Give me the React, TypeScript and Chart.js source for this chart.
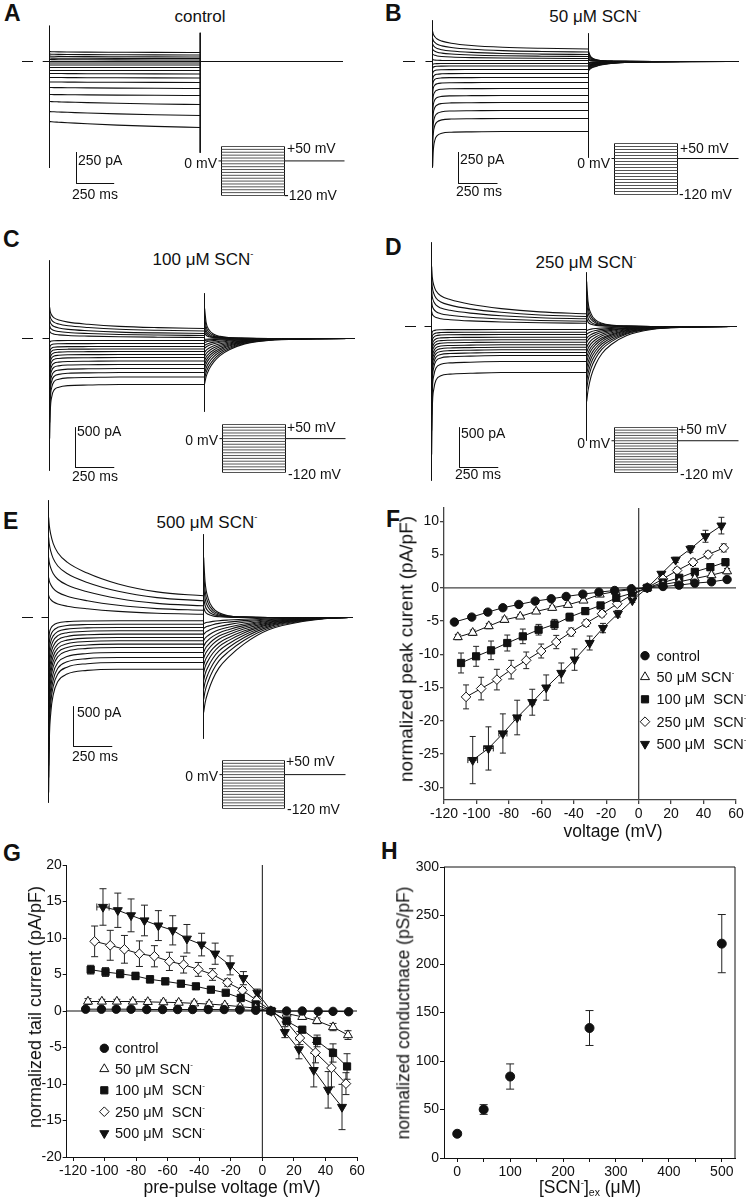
import React, { useEffect, useRef } from "react";
import { Chart, registerables } from "chart.js";
import { drawPoint } from "chart.js/helpers";

Chart.register(...registerables);

const INK = "#111";
const FONT = '"Liberation Sans", Arial, Helvetica, sans-serif';

// ---------------- Data: voltage-step protocol ----------------
const stepVoltages = [-120, -110, -100, -90, -80, -70, -60, -50, -40, -30, -20, -10, 0, 10, 20, 30, 40, 50];
const stepTimes = [1, 5, 15, 30, 60, 120, 250, 450, 700, 1000]; // ms after step onset
const tailTimes = [1, 10, 30, 60, 100, 160, 260, 420, 650, 940]; // ms after step end

// ---------------- Panel A: control (pA) ----------------
const aEarly = [-480, -400, -320, -264, -208, -164, -128, -96, -72, -48, -28, -12, 0, 16, 28, 44, 60, 80];
const aSteady = [-528, -432, -344, -272, -216, -168, -132, -100, -72, -48, -28, -12, 0, 12, 24, 36, 52, 72];
const aTail = [0, 0, 0, 0, 0, 0, 0, 0, 0, 0, 0, 0, 0, 0, 0, 0, 0, 0];
const aStepIn = [1, 0.98, 0.95, 0.92, 0.88, 0.8, 0.62, 0.4, 0.18, 0];
const aStepOut = [1, 0.9, 0.8, 0.7, 0.6, 0.5, 0.38, 0.25, 0.1, 0];
const aTailIn = [1, 0.8, 0.6, 0.4, 0.3, 0.2, 0.1, 0.05, 0, 0];
const aTailOut = [1, 0.6, 0.3, 0.15, 0.07, 0.03, 0.01, 0, 0, 0];
const aSpikes = [286, -850, 230, -730];

// ---------------- Panel B: 50 uM SCN- ----------------
const bEarly = [-840, -680, -590, -490, -410, -325, -250, -190, -145, -96, -54, -24, 20, 60, 100, 140, 185, 240];
const bSteady = [-560, -456, -392, -328, -272, -216, -168, -128, -96, -64, -36, -16, 8, 24, 40, 56, 76, 100];
const bTail = [-72, -64, -56, -48, -44, -40, -32, -28, -24, -16, -12, -8, 8, 20, 35, 50, 65, 80];
const bStepIn = [1, 0.55, 0.25, 0.12, 0.05, 0.02, 0.01, 0, 0, 0];
const bStepOut = [1, 0.85, 0.7, 0.57, 0.45, 0.33, 0.2, 0.1, 0.04, 0];
const bTailIn = [1, 0.85, 0.65, 0.48, 0.33, 0.2, 0.09, 0.03, 0.01, 0];
const bTailOut = [1, 0.6, 0.3, 0.15, 0.07, 0.03, 0.01, 0, 0, 0];
const bSpikes = [328, -848, 224, -768];

// ---------------- Panel C: 100 uM SCN- ----------------
const cEarly = [-1250, -1050, -900, -780, -660, -560, -470, -390, -320, -250, -190, -120, -50, 95, 160, 235, 310, 390];
const cSteady = [-575, -481, -425, -375, -325, -281, -238, -200, -163, -131, -100, -63, -25, 13, 38, 63, 94, 125];
const cTail = [-563, -500, -438, -375, -325, -275, -225, -175, -125, -88, -50, -25, -10, 75, 125, 188, 275, 375];
const cStepIn = [1, 0.5, 0.22, 0.1, 0.05, 0.02, 0.01, 0, 0, 0];
const cStepOut = [1, 0.8, 0.62, 0.5, 0.4, 0.3, 0.2, 0.1, 0.04, 0];
const cTailIn = [1, 0.85, 0.68, 0.52, 0.38, 0.25, 0.12, 0.04, 0.01, 0];
const cTailOut = [1, 0.55, 0.28, 0.14, 0.07, 0.03, 0.01, 0, 0, 0];
const cSpikes = [975, -1650, 563, -913];

// ---------------- Panel D: 250 uM SCN- ----------------
const dEarly = [-1600, -1300, -1100, -950, -820, -720, -620, -520, -430, -350, -270, -190, -110, 188, 313, 450, 600, 750];
const dSteady = [-575, -438, -363, -325, -291, -259, -229, -196, -166, -134, -100, -71, -38, 41, 66, 96, 125, 159];
const dTail = [-938, -788, -688, -600, -525, -450, -388, -325, -263, -200, -150, -100, -50, 100, 188, 313, 438, 563];
const dStepIn = [1, 0.45, 0.2, 0.09, 0.04, 0.02, 0.01, 0, 0, 0];
const dStepOut = [1, 0.78, 0.6, 0.48, 0.38, 0.3, 0.2, 0.11, 0.04, 0];
const dTailIn = [1, 0.85, 0.66, 0.5, 0.36, 0.24, 0.12, 0.04, 0.01, 0];
const dTailOut = [1, 0.55, 0.28, 0.14, 0.07, 0.03, 0.01, 0, 0, 0];
const dSpikes = [1050, -1925, 675, -1425];

// ---------------- Panel E: 500 uM SCN- ----------------
const eEarly = [-2188, -2000, -1850, -1688, -1525, -1375, -1225, -1075, -925, -775, -625, -475, -313, 275, 500, 750, 1000, 1250];
const eSteady = [-646, -563, -500, -438, -375, -333, -291, -250, -208, -166, -125, -84, -41, 41, 91, 146, 209, 271];
const eTail = [-1188, -1025, -900, -788, -688, -600, -513, -438, -363, -288, -213, -138, -75, 125, 250, 400, 563, 750];
const eStepIn = [1, 0.6, 0.35, 0.21, 0.1, 0.04, 0.01, 0, 0, 0];
const eStepOut = [1, 0.9, 0.78, 0.67, 0.55, 0.43, 0.29, 0.15, 0.05, 0];
const eTailIn = [1, 0.9, 0.78, 0.65, 0.53, 0.42, 0.28, 0.13, 0.04, 0];
const eTailOut = [1, 0.6, 0.32, 0.16, 0.08, 0.03, 0.01, 0, 0, 0];
const eSpikes = [1463, -2313, 1038, -1513];

// ---------------- Panel F: peak current (pA/pF) ----------------
const fCtrlX = [-113.6, -102.9, -93, -83.7, -73.9, -63.8, -53.9, -44.7, -34.4, -24.5, -14.8, -4.5, 5.3, 15, 24.9, 34.6, 44.9, 54.5];
const fCtrlY = [-5.15, -4.4, -3.65, -3.0, -2.5, -2.0, -1.65, -1.3, -0.95, -0.65, -0.4, -0.15, 0, 0.2, 0.4, 0.7, 0.9, 1.25];
const fCtrlE = [0.3, 0.3, 0.3, 0.3, 0.2, 0.2, 0.2, 0.2, 0.1, 0.1, 0.1, 0.1, 0.1, 0.1, 0.1, 0.1, 0.2, 0.2];
const f50X = [-111.5, -102.3, -92.4, -82.7, -73, -63.2, -53.3, -43.6, -34, -24, -14.2, -3.9, 5.3, 15, 24.9, 34.6, 44.9, 54.5];
const f50Y = [-7.4, -6.75, -5.75, -4.8, -4.3, -3.55, -3.0, -2.55, -1.9, -1.0, -0.55, -0.25, 0, 0.5, 0.9, 1.4, 1.9, 2.5];
const f50E = [0.4, 0.4, 0.4, 0.4, 0.3, 0.3, 0.3, 0.3, 0.2, 0.2, 0.2, 0.1, 0.1, 0.2, 0.2, 0.3, 0.3, 0.4];
const f100X = [-109.5, -100.2, -91, -81, -71.4, -61.7, -51.9, -42.6, -32.9, -23.5, -13.8, -3.9, 5.3, 15, 25, 34.6, 44.2, 53.5];
const f100Y = [-11.3, -10.3, -9.4, -8.3, -7.3, -6.3, -5.5, -4.4, -3.5, -2.65, -1.5, -0.8, 0, 0.8, 1.5, 2.4, 3.1, 3.85];
const f100E = [1.5, 1.5, 1.4, 1.2, 1.1, 0.8, 0.75, 0.6, 0.5, 0.4, 0.3, 0.2, 0.1, 0.2, 0.3, 0.4, 0.5, 0.5];
const f250X = [-106.4, -97.1, -87.4, -78.6, -69.3, -60.1, -50.8, -41.6, -32.3, -22.6, -13.2, -3.9, 5.3, 15, 23.7, 33.5, 42.8, 52.5];
const f250Y = [-16.4, -15.15, -13.8, -12.3, -10.9, -9.5, -8.15, -6.65, -5.3, -3.9, -2.4, -1.0, 0, 1.35, 2.6, 3.85, 5.0, 6.0];
const f250E = [1.8, 1.7, 1.55, 1.4, 1.25, 1.05, 1.0, 0.6, 0.5, 0.45, 0.35, 0.25, 0.1, 0.3, 0.4, 0.5, 0.5, 0.6];
const f500X = [-102.3, -92.6, -83.7, -74.9, -65.6, -57, -47.7, -39.5, -30.2, -22, -12.8, -3.9, 5.3, 14, 22.8, 31.9, 41.2, 51];
const f500Y = [-25.9, -24.15, -21.9, -19.5, -17.2, -15.0, -12.8, -10.8, -8.3, -6.05, -3.9, -1.9, 0, 2.1, 4.2, 5.85, 7.75, 9.35];
const f500E = [3.55, 3.25, 2.95, 2.6, 1.95, 1.9, 1.5, 1.6, 1.05, 0.7, 0.5, 0.3, 0.1, 0.3, 0.4, 0.5, 0.9, 1.25];
const f500XE = [3, 3, 2.5, 2, 1.5, 0, 0, 0, 0, 0, 0, 0, 0, 0, 0, 0, 0, 0];
const fXTicks = [-120, -100, -80, -60, -40, -20, 0, 20, 40, 60];
const fYTicks = [-30, -25, -20, -15, -10, -5, 0, 5, 10];

// ---------------- Panel G: tail current (pA/pF) ----------------
const gCtrlX = [-112, -102, -92.6, -83.2, -73.3, -63.2, -53.7, -44.2, -34.3, -24.2, -14.3, -4.2, 5.3, 15.4, 25.3, 35.4, 44.8, 54.7];
const gCtrlY = [0.25, 0.25, 0.25, 0.25, 0.2, 0.2, 0.2, 0.2, 0.2, 0.2, 0.15, 0.1, 0, 0, 0, -0.05, -0.05, -0.1];
const gCtrlE = [0.2, 0.2, 0.2, 0.2, 0.2, 0.2, 0.2, 0.2, 0.2, 0.2, 0.1, 0.1, 0.1, 0.1, 0.1, 0.1, 0.1, 0.1];
const g50X = [-110.5, -101.7, -92.2, -82.1, -72.6, -62.7, -53, -43.2, -33.7, -23.8, -14.1, -4.2, 5.3, 15.4, 25.3, 34.7, 44.8, 54.3];
const g50Y = [1.3, 1.3, 1.3, 1.3, 1.25, 1.2, 1.15, 1.05, 0.95, 0.8, 0.6, 0.4, 0, -0.35, -0.8, -1.35, -2.2, -3.3];
const g50E = [0.4, 0.3, 0.3, 0.3, 0.3, 0.3, 0.3, 0.3, 0.3, 0.2, 0.2, 0.2, 0.1, 0.2, 0.3, 0.4, 0.5, 0.6];
const g100X = [-108.8, -99.4, -90.1, -80.4, -71.2, -61.5, -51.6, -42.1, -32.6, -23.2, -13.7, -4.2, 5.7, 15.4, 25.3, 34.7, 44.8, 53.7];
const g100Y = [5.66, 5.34, 5.1, 4.8, 4.34, 4.06, 3.74, 3.38, 2.92, 2.5, 1.78, 0.9, 0, -1.37, -2.56, -4.1, -5.75, -7.6];
const g100E = [0.6, 0.6, 0.55, 0.5, 0.5, 0.45, 0.4, 0.4, 0.35, 0.3, 0.3, 0.25, 0.1, 0.3, 0.4, 0.8, 1.25, 1.75];
const g250X = [-106.3, -96.4, -87.4, -77.9, -68.4, -58.9, -49.9, -40.6, -31.6, -22.1, -12.6, -3.6, 5.7, 15.4, 23.8, 33.7, 43.8, 53];
const g250Y = [9.54, 9.0, 8.45, 7.85, 7.5, 6.8, 6.35, 5.7, 5.0, 3.9, 2.83, 1.46, 0, -1.5, -3.7, -5.7, -7.8, -9.95];
const g250E = [2.1, 2.05, 1.9, 1.75, 1.45, 1.25, 1.15, 0.95, 0.8, 0.5, 0.4, 0.3, 0.1, 0.4, 0.9, 1.4, 2.6, 1.5];
const g500X = [-101, -91.6, -83.2, -74.7, -65.9, -56.8, -47.8, -38.5, -29.9, -20.4, -12, -3.2, 5.7, 14.3, 23.2, 32.6, 41.7, 50.5];
const g500Y = [14.25, 13.8, 13.1, 12.4, 11.7, 11.05, 9.9, 9.1, 7.85, 6.25, 4.5, 2.5, 0, -2.9, -5.25, -8.1, -10.8, -13.15];
const g500E = [2.5, 2.35, 2.25, 2.1, 2.05, 2.0, 1.95, 1.55, 1.45, 1.3, 0.9, 0.5, 0.2, 0.75, 1.3, 2.3, 2.5, 3.1];
const g500XE = [3.9, 0, 0, 0, 0, 0, 0, 0, 0, 0, 0, 0, 0, 0, 0, 0, 0, 0];
const gXTicks = [-120, -100, -80, -60, -40, -20, 0, 20, 40, 60];
const gYTicks = [-20, -15, -10, -5, 0, 5, 10, 15, 20];

// ---------------- Panel H: conductance ----------------
const hConc = [0, 50, 100, 250, 500];
const hCond = [25, 50, 84, 134, 221];
const hErr = [2, 5, 13, 18, 30];
const hXTicks = [0, 50, 100, 150, 200, 250, 300, 350, 400, 450, 500];
const hYTicks = [0, 50, 100, 150, 200, 250, 300];

// ---------------- helpers ----------------
const markerStyles = [
  { style: "circle", fill: INK, r: 4.2, rot: 0 },
  { style: "triangle", fill: "#fff", r: 5.2, rot: 0 },
  { style: "rect", fill: INK, r: 5.1, rot: 0 },
  { style: "rectRot", fill: "#fff", r: 4.8, rot: 0 },
  { style: "triangle", fill: INK, r: 5.2, rot: 180 },
];

function seg(data: any[], smooth = false, width = 1) {
  return {
    data,
    showLine: true,
    borderColor: INK,
    borderWidth: width,
    pointRadius: 0,
    fill: false,
    cubicInterpolationMode: smooth ? "monotone" : "default",
    tension: 0,
  };
}

function baseOptions(scales: any) {
  return {
    responsive: false,
    maintainAspectRatio: false,
    devicePixelRatio: 1,
    animation: false,
    events: [],
    layout: { padding: 0 },
    plugins: { legend: { display: false }, tooltip: { enabled: false } },
    scales,
  };
}

function traceConfig(g: any, s: any) {
  const offX = g.x0 - g.left;
  const offY = g.yBase - g.top;
  const toT = (px: number) => (px - g.x0) / g.pxPerMs;
  const toPA = (py: number) => (g.yBase - py) * g.pAperPx;
  const endT = toT(g.endPx);
  const ds: any[] = [];
  ds.push(seg([{ x: -45, y: 0 }, { x: 0, y: 0 }]));
  stepVoltages.forEach((v, i) => {
    const prof = v > 0 ? s.stepOut : s.stepIn;
    ds.push(seg(stepTimes.map((t, k) => ({ x: t, y: s.steady[i] + (s.early[i] - s.steady[i]) * prof[k] })), true, 1.1));
    const tp = v > 0 ? s.tailOut : s.tailIn;
    const tail = tailTimes.map((t, k) => ({ x: 1000 + t, y: s.tail[i] * tp[k] }));
    if (endT > 1000 + tailTimes[tailTimes.length - 1]) tail.push({ x: endT, y: 0 });
    ds.push(seg(tail, true, 1.1));
  });
  ds.push(seg([{ x: 0, y: s.spikes[0] }, { x: 0, y: s.spikes[1] }]));
  ds.push(seg([{ x: 1000, y: s.spikes[2] }, { x: 1000, y: s.spikes[3] }]));
  ds.push(seg([{ x: toT(g.dash[0]), y: 0 }, { x: toT(g.dash[1]), y: 0 }]));
  const bx = toT(g.barX);
  const by = toPA(g.barY);
  ds.push(seg([{ x: bx, y: by + g.barPA }, { x: bx, y: by }, { x: bx + 250, y: by }]));
  return {
    type: "scatter",
    data: { datasets: ds },
    options: baseOptions({
      x: { type: "linear", display: false, min: -offX / g.pxPerMs, max: (g.width - offX) / g.pxPerMs },
      y: { type: "linear", display: false, min: -(g.height - offY) * g.pAperPx, max: offY * g.pAperPx },
    }),
  };
}

function protocolConfig(p: any) {
  const pxPerMs = (p.boxR - p.boxL) / 1000;
  const mvPerPx = 170 / (p.boxB - p.boxT);
  const ds: any[] = [];
  stepVoltages.forEach((v) => ds.push({ ...seg([{ x: 0, y: v }, { x: 1000, y: v }]), borderColor: "#555" }));
  ds.push(seg([{ x: 0, y: -120 }, { x: 0, y: 50 }]));
  ds.push(seg([{ x: 1000, y: -120 }, { x: 1000, y: 50 }]));
  ds.push(seg([{ x: -3 / pxPerMs, y: 0 }, { x: 0, y: 0 }]));
  ds.push(seg([{ x: 1000, y: 0 }, { x: (p.lineEnd - p.boxL) / pxPerMs, y: 0 }]));
  return {
    type: "scatter",
    data: { datasets: ds },
    options: baseOptions({
      x: { type: "linear", display: false, min: -6.5 / pxPerMs, max: (p.w - 6.5) / pxPerMs },
      y: { type: "linear", display: false, min: -120 - 3.5 * mvPerPx, max: 50 + 2.5 * mvPerPx },
    }),
  };
}

function ivConfig(o: any) {
  const datasets = o.series.map((s: any) => {
    const st = s.marker;
    return {
      data: s.x.map((x: number, j: number) => ({ x, y: s.y[j] })),
      errY: s.err,
      errX: s.errX,
      showLine: o.lines,
      borderColor: INK,
      borderWidth: 1,
      pointStyle: st.style,
      pointRadius: st.r,
      pointRotation: st.rot,
      pointBackgroundColor: st.fill,
      pointBorderColor: INK,
      pointBorderWidth: 1,
    };
  });
  const axis = (min: number, max: number, ticks: number[], size: number, isX: boolean, cb?: any) => {
    const t: any = {
      autoSkip: false,
      maxRotation: 0,
      minRotation: 0,
      color: INK,
      font: { family: FONT, size: 14 },
      padding: isX ? 2 : 1,
    };
    if (cb) t.callback = cb;
    return {
      type: "linear",
      min,
      max,
      afterBuildTicks: (sc: any) => {
        sc.ticks = ticks.map((v) => ({ value: v }));
      },
      afterFit: (sc: any) => {
        if (isX) sc.height = size;
        else sc.width = size;
      },
      ticks: t,
      grid: {
        display: true,
        drawOnChartArea: false,
        drawTicks: true,
        tickLength: 4,
        tickColor: o.axisColor,
        color: o.axisColor,
        lineWidth: o.axisWidth,
      },
      border: { display: true, color: o.axisColor, width: o.axisWidth },
    };
  };
  const plugins: any[] = [];
  plugins.push({
    id: "extras",
    beforeDatasetsDraw(chart: any) {
      const { ctx, chartArea: a, scales } = chart;
      const xs = scales.x;
      const ys = scales.y;
      ctx.save();
      if (o.zero) {
        ctx.strokeStyle = o.axisColor;
        ctx.lineWidth = o.axisWidth;
        const px = xs.getPixelForValue(0);
        const py = ys.getPixelForValue(0);
        ctx.beginPath();
        ctx.moveTo(a.left, py);
        ctx.lineTo(a.right, py);
        ctx.moveTo(px, a.top);
        ctx.lineTo(px, a.bottom);
        ctx.stroke();
      }
      if (o.frame) {
        ctx.strokeStyle = o.axisColor;
        ctx.lineWidth = o.axisWidth;
        ctx.beginPath();
        ctx.moveTo(a.left, a.top);
        ctx.lineTo(a.right, a.top);
        ctx.lineTo(a.right, a.bottom);
        ctx.stroke();
      }
      ctx.strokeStyle = "#222";
      ctx.lineWidth = 1;
      const c = o.cap;
      chart.data.datasets.forEach((ds: any, i: number) => {
        const meta = chart.getDatasetMeta(i);
        ds.data.forEach((p: any, j: number) => {
          const el = meta.data[j];
          if (!el) return;
          ctx.beginPath();
          if (ds.errY && ds.errY[j]) {
            const t = ys.getPixelForValue(p.y + ds.errY[j]);
            const b = ys.getPixelForValue(p.y - ds.errY[j]);
            ctx.moveTo(el.x, t);
            ctx.lineTo(el.x, b);
            ctx.moveTo(el.x - c, t);
            ctx.lineTo(el.x + c, t);
            ctx.moveTo(el.x - c, b);
            ctx.lineTo(el.x + c, b);
          }
          if (ds.errX && ds.errX[j]) {
            const l = xs.getPixelForValue(p.x - ds.errX[j]);
            const r = xs.getPixelForValue(p.x + ds.errX[j]);
            ctx.moveTo(l, el.y);
            ctx.lineTo(r, el.y);
            ctx.moveTo(l, el.y - c);
            ctx.lineTo(l, el.y + c);
            ctx.moveTo(r, el.y - c);
            ctx.lineTo(r, el.y + c);
          }
          ctx.stroke();
        });
      });
      ctx.restore();
    },
    afterDatasetsDraw(chart: any) {
      if (!o.legend) return;
      const { ctx } = chart;
      ctx.save();
      o.legend.ys.forEach((py: number, i: number) => {
        const st = o.series[i].marker;
        ctx.fillStyle = st.fill;
        ctx.strokeStyle = INK;
        ctx.lineWidth = 1;
        drawPoint(ctx, { pointStyle: st.style, radius: st.r, rotation: st.rot, borderWidth: 1 }, o.legend.x - o.left, py - o.top);
      });
      ctx.restore();
    },
  });
  return {
    type: "scatter",
    data: { datasets },
    plugins,
    options: {
      ...baseOptions({
        x: axis(o.xMin, o.xMax, o.xTicks, o.xAxisH, true, o.xCb),
        y: axis(o.yMin, o.yMax, o.yTicks, o.yAxisW, false),
      }),
      layout: { padding: { top: 10, right: 10, left: 0, bottom: 0 } },
    },
  };
}

// ---------------- components ----------------
function ChartCanvas({ left, top, width, height, make }: any) {
  const ref = useRef<HTMLCanvasElement>(null);
  useEffect(() => {
    const chart = new Chart(ref.current as HTMLCanvasElement, make());
    return () => chart.destroy();
  }, []);
  return (
    <canvas
      ref={ref}
      width={width}
      height={height}
      style={{ position: "absolute", left, top, width, height }}
    />
  );
}

function T({ x, y, size = 14, align = "left", bold = false, rotate = false, children }: any) {
  const tx = align === "center" ? "-50%" : align === "right" ? "-100%" : "0";
  const transform = rotate ? "translate(-50%,-50%) rotate(-90deg)" : `translate(${tx},-50%)`;
  return (
    <div
      style={{
        position: "absolute",
        left: x,
        top: y,
        fontFamily: FONT,
        fontSize: size,
        fontWeight: bold ? 700 : 400,
        lineHeight: 1,
        whiteSpace: "pre",
        transform,
        transformOrigin: "center",
        color: INK,
      }}
    >
      {children}
    </div>
  );
}

const Sup = () => (
  <span style={{ fontSize: "0.55em", verticalAlign: "0.8em", lineHeight: 0 }}>-</span>
);

function TracePanel({ g, s, p, labels }: any) {
  const pw = p.lineEnd + 2 - (p.boxL - 6);
  const ph = p.boxB - p.boxT + 6;
  return (
    <>
      <ChartCanvas left={g.left} top={g.top} width={g.width} height={g.height} make={() => traceConfig(g, s)} />
      <ChartCanvas
        left={p.boxL - 6}
        top={p.boxT - 3}
        width={pw}
        height={ph}
        make={() => protocolConfig({ ...p, w: pw })}
      />
      <T x={labels.pA[0]} y={labels.pA[1]}>{labels.pAText}</T>
      <T x={labels.ms[0]} y={labels.ms[1]}>250 ms</T>
      <T x={p.boxL - 4} y={labels.zero} align="right">0 mV</T>
      <T x={labels.plus[0]} y={labels.plus[1]}>+50 mV</T>
      <T x={labels.minus[0]} y={labels.minus[1]}>-120 mV</T>
    </>
  );
}

const legendLabels = [
  <>control</>,
  <>50 μM SCN<Sup /></>,
  <>100 μM  SCN<Sup /></>,
  <>250 μM  SCN<Sup /></>,
  <>500 μM  SCN<Sup /></>,
];

export default function App() {
  const fSeries = [
    { x: fCtrlX, y: fCtrlY, err: fCtrlE, marker: markerStyles[0] },
    { x: f50X, y: f50Y, err: f50E, marker: markerStyles[1] },
    { x: f100X, y: f100Y, err: f100E, marker: markerStyles[2] },
    { x: f250X, y: f250Y, err: f250E, marker: markerStyles[3] },
    { x: f500X, y: f500Y, err: f500E, errX: f500XE, marker: markerStyles[4] },
  ];
  const gSeries = [
    { x: gCtrlX, y: gCtrlY, err: gCtrlE, marker: markerStyles[0] },
    { x: g50X, y: g50Y, err: g50E, marker: markerStyles[1] },
    { x: g100X, y: g100Y, err: g100E, marker: markerStyles[2] },
    { x: g250X, y: g250Y, err: g250E, marker: markerStyles[3] },
    { x: g500X, y: g500Y, err: g500E, errX: g500XE, marker: markerStyles[4] },
  ];
  const hSeries = [{ x: hConc, y: hCond, err: hErr, marker: { style: "circle", fill: INK, r: 4.5, rot: 0 } }];

  const fLegendYs = [655.7, 677, 699.3, 721.7, 744];
  const gLegendYs = [1048.3, 1069, 1090.3, 1111.7, 1133.3];

  return (
    <div style={{ position: "absolute", left: 0, top: 0, width: 746, height: 1200, background: "#fff", overflow: "hidden" }}>
      {/* Panel letters */}
      <T x={4} y={13} size={23} bold>A</T>
      <T x={385} y={13} size={23} bold>B</T>
      <T x={3} y={239} size={23} bold>C</T>
      <T x={385} y={247} size={23} bold>D</T>
      <T x={3} y={521} size={23} bold>E</T>
      <T x={386} y={519} size={23} bold>F</T>
      <T x={3} y={853} size={23} bold>G</T>
      <T x={381} y={851} size={23} bold>H</T>

      {/* Titles */}
      <T x={200} y={16} size={17} align="center">control</T>
      <T x={595} y={16} size={17} align="center">50 μM SCN<Sup /></T>
      <T x={203} y={259} size={17} align="center">100 μM SCN<Sup /></T>
      <T x={586} y={262} size={17} align="center">250 μM SCN<Sup /></T>
      <T x={207} y={522} size={17} align="center">500 μM SCN<Sup /></T>

      <TracePanel
        g={{ left: 15, top: 18, width: 335, height: 172, x0: 49.5, yBase: 61.5, pxPerMs: 0.1507, pAperPx: 8, endPx: 343, dash: [22, 33], barX: 76.5, barY: 183.5, barPA: 250 }}
        s={{ early: aEarly, steady: aSteady, tail: aTail, stepIn: aStepIn, stepOut: aStepOut, tailIn: aTailIn, tailOut: aTailOut, spikes: aSpikes }}
        p={{ boxL: 221, boxR: 284, boxT: 147, boxB: 196, lineEnd: 344 }}
        labels={{ pA: [78, 160], pAText: "250 pA", ms: [72, 194], zero: 163, plus: [287, 148], minus: [284, 195] }}
      />
      <TracePanel
        g={{ left: 398, top: 14, width: 346, height: 176, x0: 432.5, yBase: 61.5, pxPerMs: 0.156, pAperPx: 8, endPx: 739, dash: [403, 415], barX: 458.5, barY: 183.5, barPA: 250 }}
        s={{ early: bEarly, steady: bSteady, tail: bTail, stepIn: bStepIn, stepOut: bStepOut, tailIn: bTailIn, tailOut: bTailOut, spikes: bSpikes }}
        p={{ boxL: 614, boxR: 677, boxT: 144, boxB: 195, lineEnd: 738 }}
        labels={{ pA: [460, 159], pAText: "250 pA", ms: [456, 191], zero: 163, plus: [680, 148], minus: [679, 194] }}
      />
      <TracePanel
        g={{ left: 15, top: 255, width: 345, height: 218, x0: 49.5, yBase: 338.5, pxPerMs: 0.155, pAperPx: 12.5, endPx: 355, dash: [22, 33], barX: 75.5, barY: 467.5, barPA: 500 }}
        s={{ early: cEarly, steady: cSteady, tail: cTail, stepIn: cStepIn, stepOut: cStepOut, tailIn: cTailIn, tailOut: cTailOut, spikes: cSpikes }}
        p={{ boxL: 222, boxR: 285, boxT: 425, boxB: 473, lineEnd: 345 }}
        labels={{ pA: [77, 431], pAText: "500 pA", ms: [72, 476], zero: 440, plus: [287, 427], minus: [288, 474] }}
      />
      <TracePanel
        g={{ left: 398, top: 237, width: 346, height: 246, x0: 431.5, yBase: 326.5, pxPerMs: 0.155, pAperPx: 12.5, endPx: 737, dash: [405, 416], barX: 459.5, barY: 467.5, barPA: 500 }}
        s={{ early: dEarly, steady: dSteady, tail: dTail, stepIn: dStepIn, stepOut: dStepOut, tailIn: dTailIn, tailOut: dTailOut, spikes: dSpikes }}
        p={{ boxL: 614, boxR: 677, boxT: 428, boxB: 473, lineEnd: 738 }}
        labels={{ pA: [461, 433], pAText: "500 pA", ms: [455, 474], zero: 443, plus: [678, 429], minus: [680, 474] }}
      />
      <TracePanel
        g={{ left: 15, top: 495, width: 345, height: 310, x0: 48.5, yBase: 617.5, pxPerMs: 0.155, pAperPx: 12.5, endPx: 353, dash: [22, 33], barX: 73.5, barY: 746.5, barPA: 500 }}
        s={{ early: eEarly, steady: eSteady, tail: eTail, stepIn: eStepIn, stepOut: eStepOut, tailIn: eTailIn, tailOut: eTailOut, spikes: eSpikes }}
        p={{ boxL: 222, boxR: 284, boxT: 761, boxB: 809, lineEnd: 345 }}
        labels={{ pA: [77, 712], pAText: "500 pA", ms: [72, 756], zero: 776, plus: [286, 761], minus: [287, 809] }}
      />

      {/* Panel F */}
      <ChartCanvas
        left={380}
        top={498}
        width={366}
        height={326}
        make={() =>
          ivConfig({
            series: fSeries, lines: true, xMin: -120, xMax: 60, yMin: -31.9, yMax: 12,
            xTicks: fXTicks, yTicks: fYTicks, xAxisH: 24, yAxisW: 64,
            axisColor: "#444", axisWidth: 1.3, zero: true, frame: false, cap: 3,
            legend: { x: 645, ys: fLegendYs }, left: 380, top: 498,
          })
        }
      />
      {legendLabels.map((l, i) => (
        <T key={"fl" + i} x={656.5} y={fLegendYs[i]} size={14.5}>{l}</T>
      ))}
      <T x={406} y={649} size={19} rotate>normalized peak curent (pA/pF)</T>
      <T x={613} y={832} size={17.5} align="center">voltage (mV)</T>

      {/* Panel G */}
      <ChartCanvas
        left={10}
        top={855}
        width={357}
        height={326}
        make={() =>
          ivConfig({
            series: gSeries, lines: true, xMin: -124, xMax: 60, yMin: -20, yMax: 20,
            xTicks: gXTicks, yTicks: gYTicks, xAxisH: 24, yAxisW: 56.7,
            axisColor: INK, axisWidth: 1, zero: true, frame: false, cap: 3.5,
            legend: { x: 104.3, ys: gLegendYs }, left: 10, top: 855,
          })
        }
      />
      {legendLabels.map((l, i) => (
        <T key={"gl" + i} x={115} y={gLegendYs[i]} size={14.5}>{l}</T>
      ))}
      <T x={35} y={1007} size={18} rotate>normalized tail current (pA/pF)</T>
      <T x={232} y={1188} size={17.5} align="center">pre-pulse voltage (mV)</T>

      {/* Panel H */}
      <ChartCanvas
        left={380}
        top={857}
        width={365}
        height={323}
        make={() =>
          ivConfig({
            series: hSeries, lines: false, xMin: -25, xMax: 525, yMin: 0, yMax: 300,
            xTicks: hXTicks, yTicks: hYTicks, xAxisH: 22, yAxisW: 64,
            xCb: (v: number) => (v % 100 === 0 ? String(v) : ""),
            axisColor: INK, axisWidth: 1, zero: false, frame: true, cap: 4,
            legend: null, left: 380, top: 857,
          })
        }
      />
      <T x={404} y={1013} size={17.5} rotate>normalized conductnace (pS/pF)</T>
      <T x={590} y={1188} size={17.5} align="center">
        [SCN<Sup />]<span style={{ fontSize: "0.6em", verticalAlign: "-0.3em", lineHeight: 0 }}>ex</span> (μM)
      </T>
    </div>
  );
}
